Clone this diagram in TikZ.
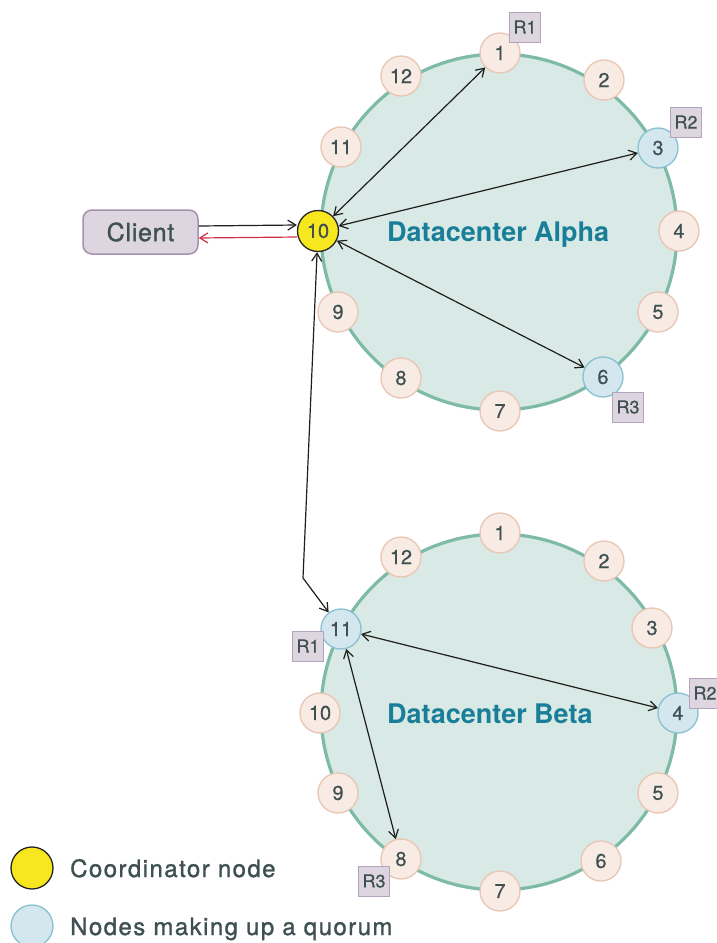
\documentclass[tikz,border=0pt]{standalone}
\usepackage{fontspec}
\setmainfont{TeX Gyre Heros}
\newfontfamily\labfont[FakeBold=1.2,LetterSpace=6]{TeX Gyre Heros}
\newfontfamily\clientfont[FakeBold=1.2,LetterSpace=3]{TeX Gyre Heros}
\newfontfamily\numfont[FakeBold=0.5]{TeX Gyre Heros}
\usetikzlibrary{arrows.meta}

\definecolor{ringfill}{HTML}{D9E9E5}
\definecolor{ringline}{HTML}{7DBBA7}
\definecolor{nodefill}{HTML}{F7EBE4}
\definecolor{nodeline}{HTML}{E9C5B3}
\definecolor{qfill}{HTML}{D4E6EE}
\definecolor{qline}{HTML}{88C1D2}
\definecolor{coordfill}{HTML}{F7E71E}
\definecolor{txt}{HTML}{3E5052}
\definecolor{dctext}{HTML}{197F98}
\definecolor{boxfill}{HTML}{DDD6E0}
\definecolor{boxline}{HTML}{B3A3BB}
\definecolor{clientline}{HTML}{A690B0}
\definecolor{arrowc}{HTML}{1E1E1E}
\definecolor{replyc}{HTML}{CF3049}

\begin{document}
\begin{tikzpicture}[x=1pt,y=-1pt,
  ring/.style={fill=ringfill, draw=ringline, line width=3.2pt},
  ringnode/.style={circle, minimum size=40pt, inner sep=0pt, fill=nodefill,
    draw=nodeline, line width=1.3pt, text=txt, font=\numfont\fontsize{20}{20}\selectfont},
  quorum/.style={ringnode, fill=qfill, draw=qline},
  coordnode/.style={ringnode, fill=coordfill, draw=black!85, minimum size=41pt},
  rbox/.style={rectangle, minimum width=31pt, minimum height=30pt, inner sep=0pt,
    fill=boxfill, draw=boxline, line width=1pt, text=txt, font=\numfont\fontsize{18}{18}\selectfont},
  biarrow/.style={{Straight Barb[length=8pt,width=10pt]}-{Straight Barb[length=8pt,width=10pt]},
    draw=arrowc, line width=1.2pt},
  onearrow/.style={-{Straight Barb[length=8pt,width=10pt]}, draw=arrowc, line width=1.2pt},
  replyarrow/.style={-{Straight Barb[length=8pt,width=10pt]}, draw=replyc, line width=1.2pt},
  dclabel/.style={anchor=base west, inner sep=0pt, text=dctext,
    font=\bfseries\fontsize{27}{27}\selectfont},
  legtext/.style={anchor=base west, inner sep=0pt, text=txt,
    font=\labfont\fontsize{24}{24}\selectfont}
]
\useasboundingbox (0,0) rectangle (716,943);

% the two datacenter rings
\draw[ring] (499,232) circle[radius=178pt];
\draw[ring] (499,712) circle[radius=178pt];

\node[dclabel] (dca) at (387,241) {Datacenter Alpha};
\node[dclabel] (dcb) at (387,723) {Datacenter Beta};

% Datacenter Alpha nodes
\node[ringnode] (a1) at (500,53) {1};
\node[ringnode] (a2) at (604,80) {2};
\node[quorum]   (a3) at (658,148) {3};
\node[ringnode] (a4) at (679,231) {4};
\node[ringnode] (a5) at (658,312) {5};
\node[quorum]   (a6) at (603,377) {6};
\node[ringnode] (a7) at (500,411) {7};
\node[ringnode] (a8) at (401,378) {8};
\node[ringnode] (a9) at (338,312) {9};
\node[coordnode] (a10) at (318,231) {10};
\node[ringnode] (a11) at (341,147) {11};
\node[ringnode] (a12) at (401,76) {12};

% Datacenter Beta nodes
\node[ringnode] (b1) at (500,533) {1};
\node[ringnode] (b2) at (604,561) {2};
\node[ringnode] (b3) at (652,628) {3};
\node[quorum]   (b4) at (678,713) {4};
\node[ringnode] (b5) at (658,793) {5};
\node[ringnode] (b6) at (601,861) {6};
\node[ringnode] (b7) at (500,891) {7};
\node[ringnode] (b8) at (401,859) {8};
\node[ringnode] (b9) at (338,793) {9};
\node[ringnode] (b10) at (320,713) {10};
\node[quorum]   (b11) at (341,629) {11};
\node[ringnode] (b12) at (401,557) {12};

% replica tags
\node[rbox] (ra1) at (525,27) {R1};
\node[rbox] (ra2) at (686,122) {R2};
\node[rbox] (ra3) at (628,407) {R3};
\node[rbox] (rb1) at (308,646) {R1};
\node[rbox] (rb2) at (705,693) {R2};
\node[rbox] (rb3) at (374,881) {R3};

% client
\node[rectangle, rounded corners=9pt, minimum width=115pt, minimum height=44pt,
  fill=boxfill, draw=clientline, line width=1.5pt, text=txt,
  font=\clientfont\fontsize{25}{25}\selectfont] (client) at (140.5,232) {Client};

% requests and replies
\draw[onearrow] ([yshift=6pt]client.east) -- ([yshift=6pt]a10.west);
\draw[replyarrow] ([yshift=-6pt]a10.west) -- ([yshift=-6pt]client.east);

\draw[biarrow] (a10) -- (a1);
\draw[biarrow] (a10) -- (a3);
\draw[biarrow] (a10) -- (a6);
\coordinate (bend) at (303,578);
\draw[biarrow] (a10) -- (bend) -- (b11);
\draw[biarrow] (b11) -- (b4);
\draw[biarrow] (b11) -- (b8);

% legend
\node[coordnode, minimum size=42pt] (legc) at (32,868) {};
\node[quorum, minimum size=42pt] (legq) at (32,926) {};
\node[legtext] (legct) at (70,877) {Coordinator node};
\node[legtext] (legqt) at (70,935) {Nodes making up a quorum};
\end{tikzpicture}
\end{document}
